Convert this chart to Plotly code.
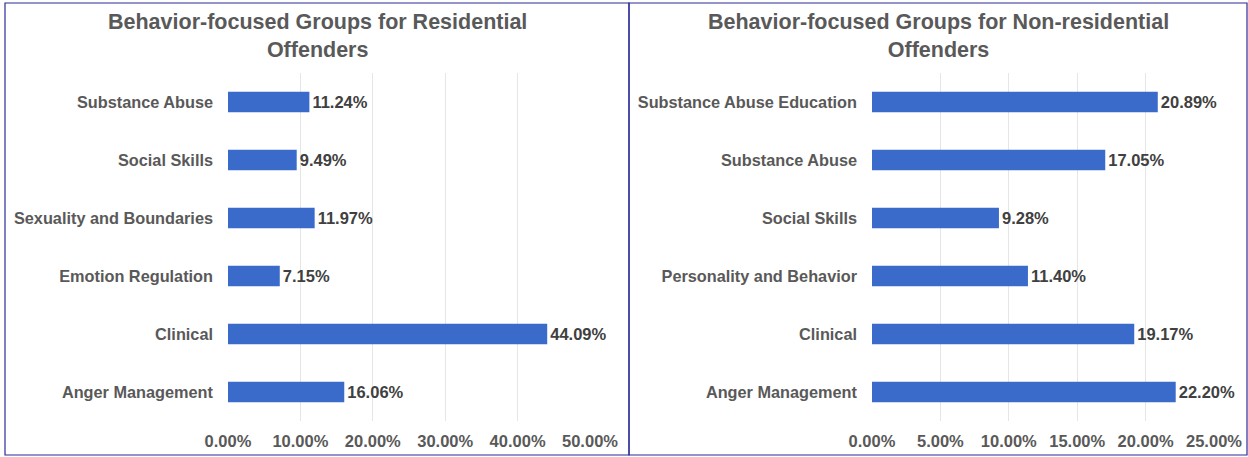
import plotly.graph_objects as go
from plotly.subplots import make_subplots

# Residential panel (bottom-to-top order as drawn)
res_groups = ["Anger Management", "Clinical", "Emotion Regulation",
              "Sexuality and Boundaries", "Social Skills", "Substance Abuse"]
res_values = [16.06, 44.09, 7.15, 11.97, 9.49, 11.24]
res_ticks = [0, 10, 20, 30, 40, 50]

# Non-residential panel
nonres_groups = ["Anger Management", "Clinical", "Personality and Behavior",
                 "Social Skills", "Substance Abuse", "Substance Abuse Education"]
nonres_values = [22.20, 19.17, 11.40, 9.28, 17.05, 20.89]
nonres_ticks = [0, 5, 10, 15, 20, 25]

W, H = 1248, 457
bar_color = "#3A6BCB"
label_color = "#595959"
value_color = "#404040"
font_family = "Liberation Sans, Arial, sans-serif"

fig = make_subplots(rows=1, cols=2)

for col, groups, values in [(1, res_groups, res_values), (2, nonres_groups, nonres_values)]:
    fig.add_trace(go.Bar(
        x=values,
        y=groups,
        orientation="h",
        marker=dict(color=bar_color, line=dict(width=0)),
        width=0.35,
        texttemplate="<b>%{x:.2f}%</b>",
        textposition="outside",
        textfont=dict(size=16.5, color=value_color, family=font_family),
        cliponaxis=False,
        showlegend=False,
    ), row=1, col=col)

ydom = [(457 - 421) / H, (457 - 73) / H]

fig.update_xaxes(
    showgrid=True, gridcolor="#E6E6E6", gridwidth=1,
    zeroline=False, showline=False, ticks="", automargin=False,
    ticklabelstandoff=8,
    tickfont=dict(size=16.5, color=label_color, family=font_family),
    fixedrange=True,
)
fig.update_xaxes(range=[0, 50], tickvals=res_ticks,
                 ticktext=["<b>%.2f%%</b>" % t for t in res_ticks],
                 domain=[228 / W, 590 / W], row=1, col=1)
fig.update_xaxes(range=[0, 25], tickvals=nonres_ticks,
                 ticktext=["<b>%.2f%%</b>" % t for t in nonres_ticks],
                 domain=[872 / W, 1214 / W], row=1, col=2)

fig.update_yaxes(
    domain=ydom, showgrid=False, zeroline=False, showline=False, ticks="",
    automargin=False, tickprefix="<b>", ticksuffix="</b>",
    ticklabelstandoff=14, fixedrange=True,
    tickfont=dict(size=16.3, color=label_color, family=font_family),
)

# titles and panel borders
titles = [
    ("<b>Behavior-focused Groups for Residential<br>Offenders</b>", 317),
    ("<b>Behavior-focused Groups for Non-residential<br>Offenders</b>", 938),
]
for text, cx in titles:
    fig.add_annotation(
        text=text, x=cx / W, y=1 - 8 / H, xref="paper", yref="paper",
        xanchor="center", yanchor="top", showarrow=False,
        font=dict(size=21.5, color=label_color, family=font_family),
    )

border = "#2B2B9A"
for x0, x1 in [(5, 629), (629, 1247)]:
    fig.add_shape(type="rect", xref="paper", yref="paper",
                  x0=x0 / W, x1=x1 / W, y0=1 - 455 / H, y1=1 - 3 / H,
                  line=dict(color=border, width=1.2), fillcolor="rgba(0,0,0,0)")

fig.update_layout(
    width=W, height=H,
    margin=dict(l=0, r=0, t=0, b=0, autoexpand=False),
    plot_bgcolor="white", paper_bgcolor="white",
    font=dict(family=font_family),
)

fig.write_html("out.html", config={"displayModeBar": False},
               post_script="document.body.style.margin='0px';")
